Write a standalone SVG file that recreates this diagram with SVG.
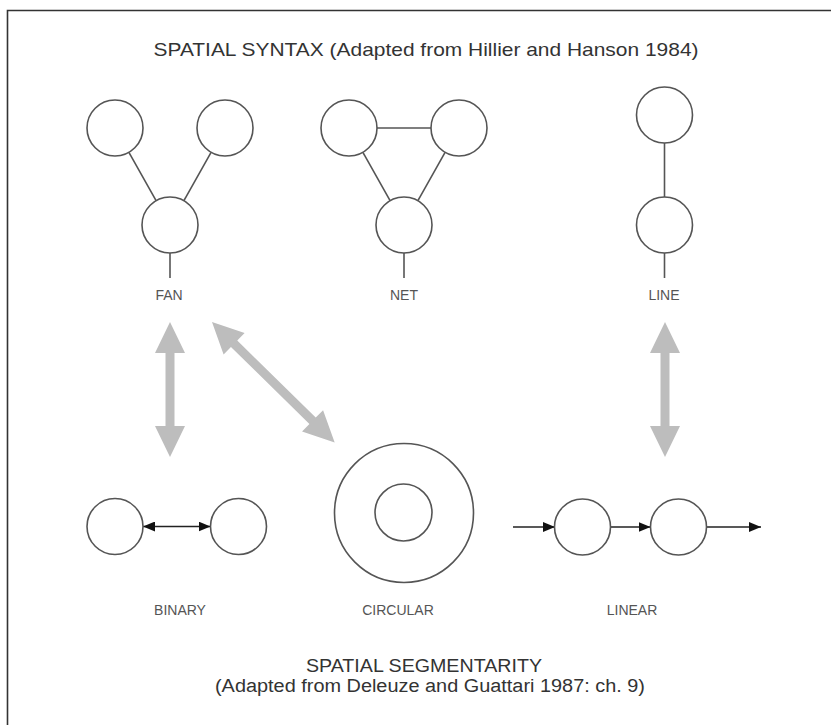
<svg xmlns="http://www.w3.org/2000/svg" width="831" height="725" viewBox="0 0 831 725">
  <style>
    .node { fill: #fff; stroke: #555; stroke-width: 1.6; }
    .link { stroke: #555; stroke-width: 1.6; fill: none; }
    .flow { stroke: #222; stroke-width: 1.5; fill: none; }
    .big  { fill: #bdbdbd; }
    .title { font-family: "Liberation Sans", Arial, sans-serif; font-size: 19px; fill: #333; text-anchor: middle; }
    .sub { font-family: "Liberation Sans", Arial, sans-serif; font-size: 18px; fill: #333; text-anchor: middle; }
    .label { font-family: "Liberation Sans", Arial, sans-serif; font-size: 14px; fill: #555; text-anchor: middle; }
  </style>
  <defs>
    <marker id="head" viewBox="0 0 12 10" refX="12" refY="5" markerWidth="12" markerHeight="10" markerUnits="userSpaceOnUse" orient="auto-start-reverse">
      <path d="M0,0 L12,5 L0,10 Z" fill="#111"/>
    </marker>
    <!-- wide grey double-headed arrow, drawn along +x from 0 to its length -->
    <polygon id="dbl135" class="big" points="0,0 31,-15 31,-4.5 104,-4.5 104,-15 135,0 104,15 104,4.5 31,4.5 31,15"/>
    <polygon id="dbl172" class="big" points="0,0 31,-15 31,-4.5 141,-4.5 141,-15 172,0 141,15 141,4.5 31,4.5 31,15"/>
  </defs>

  <rect width="831" height="725" fill="#fff"/>
  <path d="M7.5,725 V10.5 H831" fill="none" stroke="#333" stroke-width="1.6"/>

  <text class="title" x="426" y="56" textLength="545" lengthAdjust="spacingAndGlyphs">SPATIAL SYNTAX  (Adapted from Hillier and Hanson 1984)</text>

  <!-- connectors -->
  <g id="connectors">
    <!-- fan -->
    <line class="link" x1="128.9" y1="152.3" x2="156.1" y2="200.7"/>
    <line class="link" x1="211.1" y1="152.3" x2="183.9" y2="200.7"/>
    <line class="link" x1="170" y1="253" x2="170" y2="278"/>
    <!-- net -->
    <line class="link" x1="377" y1="128" x2="431" y2="128"/>
    <line class="link" x1="362.9" y1="152.3" x2="390.1" y2="200.7"/>
    <line class="link" x1="445.1" y1="152.3" x2="417.9" y2="200.7"/>
    <line class="link" x1="404" y1="253" x2="404" y2="278"/>
    <!-- line -->
    <line class="link" x1="664.5" y1="143" x2="664.5" y2="197"/>
    <line class="link" x1="664.5" y1="253" x2="664.5" y2="278"/>
    <!-- grey correspondences -->
    <use href="#dbl135" transform="translate(170,322) rotate(90)"/>
    <use href="#dbl172" transform="translate(212,322) rotate(44.5)"/>
    <use href="#dbl135" transform="translate(665,322) rotate(90)"/>
    <!-- binary -->
    <line class="flow" x1="143" y1="526.5" x2="210.5" y2="526.5" marker-start="url(#head)" marker-end="url(#head)"/>
    <!-- linear -->
    <line class="flow" x1="513" y1="527" x2="555" y2="527" marker-end="url(#head)"/>
    <line class="flow" x1="610.5" y1="527" x2="650.5" y2="527" marker-end="url(#head)"/>
    <line class="flow" x1="706.5" y1="527" x2="761" y2="527" marker-end="url(#head)"/>
  </g>

  <g id="fan">
    <circle class="node" cx="115" cy="128" r="28"/>
    <circle class="node" cx="225" cy="128" r="28"/>
    <circle class="node" cx="170" cy="225" r="28"/>
    <text class="label" x="169" y="300">FAN</text>
  </g>

  <g id="net">
    <circle class="node" cx="349" cy="128" r="28"/>
    <circle class="node" cx="459" cy="128" r="28"/>
    <circle class="node" cx="404" cy="225" r="28"/>
    <text class="label" x="404" y="300">NET</text>
  </g>

  <g id="line">
    <circle class="node" cx="664.5" cy="115" r="28"/>
    <circle class="node" cx="664.5" cy="225" r="28"/>
    <text class="label" x="664" y="300">LINE</text>
  </g>

  <g id="binary">
    <circle class="node" cx="115" cy="526.5" r="28"/>
    <circle class="node" cx="238.5" cy="526.5" r="28"/>
    <text class="label" x="180" y="615">BINARY</text>
  </g>

  <g id="circular">
    <circle class="node" cx="404" cy="513" r="69.5"/>
    <circle class="node" cx="403.5" cy="512.5" r="28.5"/>
    <text class="label" x="398" y="615">CIRCULAR</text>
  </g>

  <g id="linear">
    <circle class="node" cx="582.5" cy="527" r="28"/>
    <circle class="node" cx="678.5" cy="527" r="28"/>
    <text class="label" x="632" y="615">LINEAR</text>
  </g>

  <text class="sub" x="424" y="672" textLength="236" lengthAdjust="spacingAndGlyphs">SPATIAL SEGMENTARITY</text>
  <text class="sub" x="430" y="692" textLength="430" lengthAdjust="spacingAndGlyphs">(Adapted from Deleuze and Guattari 1987: ch. 9)</text>
</svg>
